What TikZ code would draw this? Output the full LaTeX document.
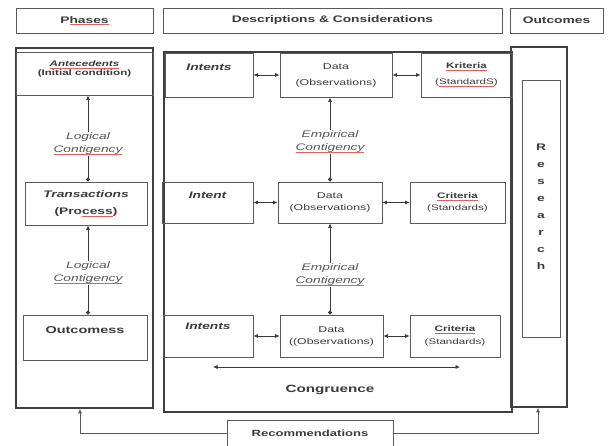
\documentclass[tikz,border=0pt]{standalone}
\usepackage{fontspec}
\setmainfont{Liberation Sans}[FakeStretch=1.45]
\usetikzlibrary{arrows.meta}

\definecolor{ink}{HTML}{3A3A3A}
\definecolor{rim}{HTML}{5A5A5A}
\definecolor{spellred}{HTML}{E06060}

% red spell-check line under a word
\newlength\spellwd
\newcommand\spell[1]{\settowidth\spellwd{#1}\rlap{\textcolor{spellred}{\rule[-1.8pt]{\spellwd}{0.5pt}}}#1}

\tikzset{
  panel/.style={draw=black!75, line width=1.6pt, inner sep=0pt},
  headbox/.style={draw=rim, line width=0.9pt, minimum height=25pt, inner sep=0pt, text=ink, font=\fontsize{9.5}{11}\selectfont\bfseries},
  cell/.style={draw=rim, line width=0.8pt, inner sep=0pt, align=center, text=ink},
  celltext/.style={text=ink, align=center, inner sep=0pt},
  contig/.style={text=ink!85, align=center, fill=white, inner sep=1pt, font=\fontsize{9.5}{13}\selectfont\itshape},
  headtip/.tip={Latex[length=4.5pt,width=4pt]},
  balltip/.tip={Circle[length=4pt]},
  twoway/.style={headtip-headtip, draw=ink, line width=0.7pt},
  flow/.style={headtip-balltip, draw=ink, line width=0.7pt},
  feedback/.style={-headtip, draw=rim, line width=0.7pt},
}

\begin{document}
\begin{tikzpicture}[x=1pt,y=1pt]
\useasboundingbox (0,0) rectangle (612,446);

% headers
\node[headbox, minimum width=137pt] (hPhases) at (84.5,425.5) {P\spell{hases}};
\node[headbox, minimum width=339pt] (hDesc) at (332.5,425.5) {Descriptions \& Considerations};
\node[headbox, minimum width=93pt] (hOut) at (556.5,425.5) {Outcomes};

% big panels
\node[panel, minimum width=137pt, minimum height=360pt] (phasePanel) at (84.5,218) {};
\node[panel, minimum width=348pt, minimum height=360pt] (descPanel) at (338,214) {};
\node[panel, minimum width=56pt, minimum height=360pt] (resPanel) at (539,219) {};

% phases
\node[cell, minimum width=137pt, minimum height=43pt] (ante) at (84.5,372.5) {};
\node[celltext, font=\fontsize{8}{9}\selectfont\bfseries] (anteText) at (84.5,377) {\itshape\spell{Antecedents}\\(Initial condition)};
\node[cell, minimum width=122pt, minimum height=43pt, font=\fontsize{9.5}{17}\selectfont\bfseries] (trans) at (86,242.5) {\itshape Transactions\\(Pro\spell{cess})};
\node[cell, minimum width=124pt, minimum height=45pt] (outc) at (85,108.5) {};
\node[celltext, font=\fontsize{10}{12}\selectfont\bfseries] (outcText) at (85,116) {Outcomess};

\draw[flow] ([xshift=2pt]trans.north |- ante.south) -- ([xshift=2pt]trans.north);
\draw[flow] ([xshift=2pt]trans.south) -- ([xshift=2pt]trans.south |- outc.north);
\node[contig] (logic1) at (88,302) {Logical\\\spell{Contigency}};
\node[contig] (logic2) at (88,173) {Logical\\\spell{Contigency}};

% descriptions, top row
\node[cell, minimum width=88pt, minimum height=44pt] (intTop) at (209,371) {};
\node[celltext, font=\fontsize{9.5}{11}\selectfont\bfseries\itshape] (intTopText) at (209,379) {Intents};
\node[cell, minimum width=112pt, minimum height=44pt, font=\fontsize{8.5}{16}\selectfont] (dataTop) at (336,371) {Data\\(Observations)};
\node[cell, minimum width=91pt, minimum height=44pt, font=\fontsize{8}{16}\selectfont] (critTop) at (466.5,371) {\textbf{\spell{Kriteria}}\\(\spell{StandardS})};

% middle row
\node[cell, minimum width=91pt, minimum height=41pt] (intMid) at (207.5,243.5) {};
\node[celltext, font=\fontsize{9.5}{11}\selectfont\bfseries\itshape] (intMidText) at (207.5,251) {Intent};
\node[cell, minimum width=104pt, minimum height=41pt, font=\fontsize{8.5}{11.5}\selectfont] (dataMid) at (330,243.5) {Data\\(Observations)};
\node[cell, minimum width=95pt, minimum height=41pt, font=\fontsize{8}{12}\selectfont] (critMid) at (457.5,243.5) {\textbf{\spell{Criteria}}\\(Standards)};

% bottom row
\node[cell, minimum width=90pt, minimum height=42pt] (intBot) at (208,110) {};
\node[celltext, font=\fontsize{9.5}{11}\selectfont\bfseries\itshape] (intBotText) at (208,120) {Intents};
\node[cell, minimum width=103pt, minimum height=42pt, font=\fontsize{8.5}{12}\selectfont] (dataBot) at (331.5,110) {Data\\((Observations)};
\node[cell, minimum width=90pt, minimum height=42pt, font=\fontsize{8}{12.5}\selectfont] (critBot) at (455,110) {\textbf{\spell{Criteria}}\\(Standards)};

% links between the cells
\draw[twoway] (intTop.east) -- (dataTop.west);
\draw[twoway] (dataTop.east) -- (critTop.west);
\draw[twoway] (intMid.east) -- (dataMid.west);
\draw[twoway] (dataMid.east) -- (critMid.west);
\draw[twoway] (intBot.east) -- (dataBot.west);
\draw[twoway] (dataBot.east) -- (critBot.west);
\draw[flow] (dataMid.north |- dataTop.south) -- (dataMid.north);
\draw[flow] (dataMid.south) -- (dataMid.south |- dataBot.north);
\node[contig] (empir1) at (330,304) {Empirical\\\spell{Contigency}};
\node[contig] (empir2) at (330,171) {Empirical\\\spell{Contigency}};

% congruence
\coordinate (congL) at (213,79);
\coordinate (congR) at (460,79);
\draw[twoway] (congL) -- (congR);
\node[celltext, font=\fontsize{10.5}{12}\selectfont\bfseries] (congText) at (330,56) {Congruence};

% research
\node[cell, minimum width=38pt, minimum height=257pt] (resBox) at (541,237.5) {};
\node[celltext, font=\fontsize{9.5}{17}\selectfont\bfseries] (resText) at (541,239) {R\\e\\s\\e\\a\\r\\c\\h};

% recommendations and feedback
\node[cell, minimum width=166pt, minimum height=26pt, font=\fontsize{9}{11}\selectfont\bfseries] (recom) at (310,13) {Recommendations};
\draw[feedback] (recom.west) -| ([xshift=-4.5pt]phasePanel.south);
\draw[feedback] (recom.east) -| ([xshift=-1pt]resPanel.south);
\end{tikzpicture}
\end{document}
